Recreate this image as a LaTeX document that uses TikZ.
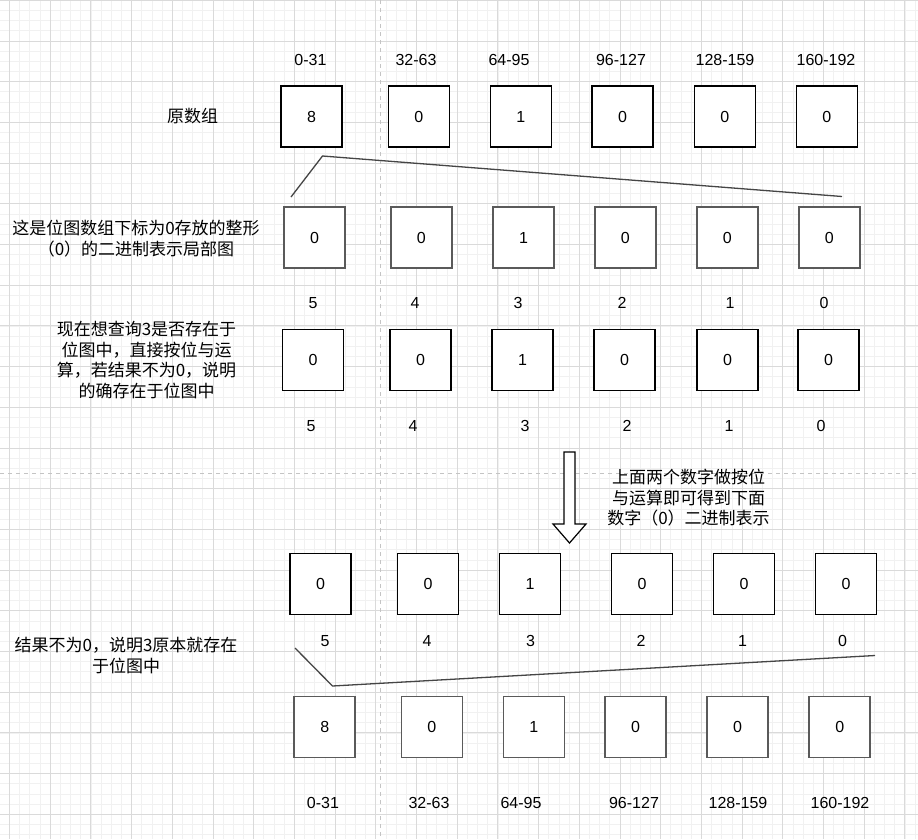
\documentclass[tikz,border=0pt]{standalone}
\usepackage{fontspec}
\setmainfont{Liberation Sans}
\newfontfamily\cjk{Noto Sans CJK SC}
\definecolor{minorg}{HTML}{F1F1F1}
\definecolor{majorg}{HTML}{DADADA}
\definecolor{dashg}{HTML}{C4C4C4}
\definecolor{boxgray}{HTML}{5A5A5A}
\definecolor{linegray}{HTML}{454545}
\tikzset{
  cell/.style={draw=black, fill=white, line width=1.3pt, minimum width=61pt, minimum height=61pt, inner sep=0pt, font=\fontsize{16}{19}\selectfont},
  cellg/.style={cell, draw=boxgray, line width=1.6pt},
  num/.style={inner sep=0pt, font=\fontsize{16}{19}\selectfont},
  note/.style={inner sep=0pt, align=center, font=\cjk\fontsize{17}{20.5}\selectfont},
  brace/.style={draw=linegray, line width=1.3pt},
  minorline/.style={draw=minorg, line width=0.8pt},
  majorline/.style={draw=majorg, line width=0.9pt},
  sep/.style={draw=dashg, line width=0.9pt, dash pattern=on 4pt off 4pt}
}
\begin{document}
\begin{tikzpicture}[x=1pt,y=-1pt]
\fill[white] (0,0) rectangle (918,839);
\useasboundingbox (0,0) rectangle (918,839);
% grid
\foreach \i in {0,...,90} {\pgfmathsetmacro{\xx}{-0.675+\i*10.175}\draw[minorline] (\xx,0) -- (\xx,839);}
\foreach \j in {0,...,82} {\pgfmathsetmacro{\yy}{0.3+\j*10.175}\draw[minorline] (0,\yy) -- (918,\yy);}
\foreach \i in {0,...,22} {\pgfmathsetmacro{\xx}{9.5+\i*40.7}\draw[majorline] (\xx,0) -- (\xx,839);}
\foreach \j in {0,...,20} {\pgfmathsetmacro{\yy}{0.3+\j*40.7}\draw[majorline] (0,\yy) -- (918,\yy);}
\draw[sep] (380,0) -- (380,839);
\draw[sep] (0,473.5) -- (918,473.5);

% row 1 labels
\node[num] (t1) at (310.5,60) {0-31};
\node[num] (t2) at (416,60) {32-63};
\node[num] (t3) at (509,60) {64-95};
\node[num] (t4) at (621,60) {96-127};
\node[num] (t5) at (725,60) {128-159};
\node[num] (t6) at (826,60) {160-192};
% row 1 boxes
\node[cell] (a1) at (311.5,116.5) {8};
\node[cell] (a2) at (418.8,116.5) {0};
\node[cell] (a3) at (520.8,116.5) {1};
\node[cell] (a4) at (622.5,116.5) {0};
\node[cell] (a5) at (724.8,116.5) {0};
\node[cell] (a6) at (826.7,116.5) {0};
\node[note] (n1) at (192.5,116.5) {原数组};

% brace 1
\coordinate (p1) at (291,197);
\coordinate (p2) at (322.5,156);
\coordinate (p3) at (842,196.5);
\draw[brace] (p1) -- (p2) -- (p3);

% row 2 boxes
\node[cellg] (b1) at (314.5,237.5) {0};
\node[cellg] (b2) at (421.4,237.5) {0};
\node[cellg] (b3) at (523.6,237.5) {1};
\node[cellg] (b4) at (625.4,237.5) {0};
\node[cellg] (b5) at (727.3,237.5) {0};
\node[cellg] (b6) at (829.3,237.5) {0};
\node[note] (n2) at (136,238.5) {这是位图数组下标为0存放的整形\\（0）的二进制表示局部图};
% row 2 bits
\node[num] (s1) at (313,303) {5};
\node[num] (s2) at (415,303) {4};
\node[num] (s3) at (518,303) {3};
\node[num] (s4) at (622,303) {2};
\node[num] (s5) at (730,303) {1};
\node[num] (s6) at (824,303) {0};

% row 3 boxes
\node[cell] (c1) at (313,359.8) {0};
\node[cell] (c2) at (420.5,359.8) {0};
\node[cell] (c3) at (522.5,359.8) {1};
\node[cell] (c4) at (624.5,359.8) {0};
\node[cell] (c5) at (727.5,359.8) {0};
\node[cell] (c6) at (828.5,359.8) {0};
\node[note] (n3) at (146.5,360) {现在想查询3是否存在于\\位图中，直接按位与运\\算，若结果不为0，说明\\的确存在于位图中};
% row 3 bits
\node[num] (u1) at (311,426) {5};
\node[num] (u2) at (413,426) {4};
\node[num] (u3) at (525,426) {3};
\node[num] (u4) at (627,426) {2};
\node[num] (u5) at (729,426) {1};
\node[num] (u6) at (821,426) {0};

% arrow
\draw[black, fill=white, line width=1.2pt, line join=miter]
  (564,452) -- (575,452) -- (575,524) -- (586,524) -- (569.5,543) -- (553,524) -- (564,524) -- cycle;
\node[note] (n4) at (688.5,498) {上面两个数字做按位\\与运算即可得到下面\\数字（0）二进制表示};

% row 4 boxes
\node[cell] (d1) at (320.5,584) {0};
\node[cell] (d2) at (428,584) {0};
\node[cell] (d3) at (530,584) {1};
\node[cell] (d4) at (642,584) {0};
\node[cell] (d5) at (744,584) {0};
\node[cell] (d6) at (846,584) {0};
% row 4 bits
\node[num] (v1) at (325,641) {5};
\node[num] (v2) at (427,641) {4};
\node[num] (v3) at (530.5,641) {3};
\node[num] (v4) at (641,641) {2};
\node[num] (v5) at (742.5,641) {1};
\node[num] (v6) at (842.5,641) {0};
\node[note] (n5) at (126,655.5) {结果不为0，说明3原本就存在\\于位图中};

% brace 2
\coordinate (q1) at (295,648);
\coordinate (q2) at (332.5,686);
\coordinate (q3) at (875,655.5);
\draw[brace] (q1) -- (q2) -- (q3);

% row 5 boxes
\node[cellg] (e1) at (324.7,727) {8};
\node[cellg] (e2) at (431.8,727) {0};
\node[cellg] (e3) at (533.8,727) {1};
\node[cellg] (e4) at (635.6,727) {0};
\node[cellg] (e5) at (737.6,727) {0};
\node[cellg] (e6) at (839.7,727) {0};
% row 5 labels
\node[num] (w1) at (323,803) {0-31};
\node[num] (w2) at (429,803) {32-63};
\node[num] (w3) at (521,803) {64-95};
\node[num] (w4) at (634,803) {96-127};
\node[num] (w5) at (738,803) {128-159};
\node[num] (w6) at (840,803) {160-192};
\end{tikzpicture}
\end{document}
